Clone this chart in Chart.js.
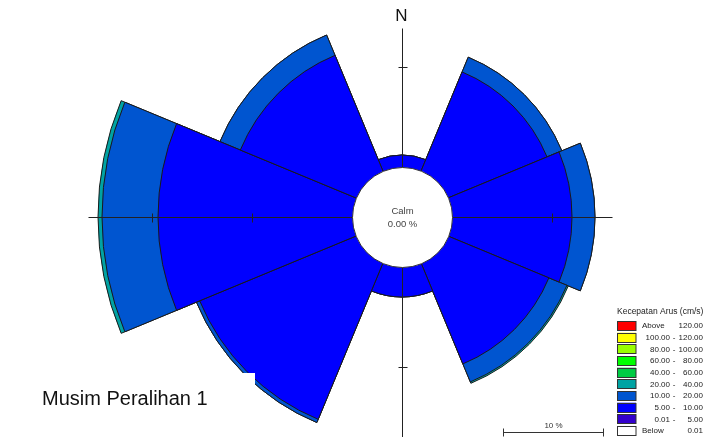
<!DOCTYPE html>
<html>
<head>
<meta charset="utf-8">
<script src="https://cdn.jsdelivr.net/npm/chart.js@4.4.1/dist/chart.umd.min.js"></script>
<style>
  body { margin: 0; background: #fff; }
  canvas { display: block; }
</style>
</head>
<body>
<canvas id="rose" width="710" height="437"></canvas>
<script>
var directions = ['N', 'NE', 'E', 'SE', 'S', 'SW', 'W', 'NW'];

// % of time per speed class (cm/s), one value per direction
var speed0to5   = [0, 0, 0, 0, 0, 0, 0, 0];
var speed5to10  = [1.2, 10.7, 12.0, 10.9, 3.0, 16.9, 19.4, 12.5];
var speed10to20 = [0, 1.6, 2.3, 1.95, 0, 0.35, 5.6, 2.2];
var speed20to40 = [0, 0, 0, 0.15, 0, 0, 0.4, 0];
var speed40to60 = [0, 0, 0, 0, 0, 0, 0, 0];
var speed60to80 = [0, 0, 0, 0, 0, 0, 0, 0];
var speed80to100 = [0, 0, 0, 0, 0, 0, 0, 0];
var speed100to120 = [0, 0, 0, 0, 0, 0, 0, 0];
var speedAbove120 = [0, 0, 0, 0, 0, 0, 0, 0];
var calmPercent = 0.00;

// legend rows, top to bottom
var legendLow  = ['Above', '100.00', '80.00', '60.00', '40.00', '20.00', '10.00', '5.00', '0.01', 'Below'];
var legendHigh = ['120.00', '120.00', '100.00', '80.00', '60.00', '40.00', '20.00', '10.00', '5.00', '0.01'];
var legendColors = ['#ff0000', '#ffff00', '#99ff00', '#00ff00', '#00cc44', '#00a3a3', '#0055d0', '#0000ff', '#3300cc', '#ffffff'];

var axisTicks = [10, 20];
var scaleBarPercent = 10;

// stack classes from slowest to fastest
var classes = [speed0to5, speed5to10, speed10to20, speed20to40, speed40to60,
               speed60to80, speed80to100, speed100to120, speedAbove120];
var classColors = legendColors.slice(0, 9).reverse();

var datasets = [];
var running = directions.map(function() { return 0; });
classes.forEach(function(values, k) {
  running = running.map(function(v, i) { return v + values[i]; });
  var used = values.some(function(v) { return v > 0; });
  if (!used) return;
  datasets.push({
    label: legendLow[8 - k],
    data: running.slice(),
    backgroundColor: classColors[k],
    borderColor: '#1a1a1a',
    borderWidth: 1,
    clip: false
  });
});

var FONT = '"Liberation Sans", Arial, sans-serif';

var roseDecor = {
  id: 'roseDecor',
  afterDatasetsDraw: function(chart) {
    var ctx = chart.ctx;
    var r = chart.scales.r;
    var cx = Math.round(r.xCenter) + 0.5, cy = Math.round(r.yCenter) + 0.5;
    var d = function(v) { return r.getDistanceFromCenterForValue(v); };
    var ext = { left: 26.4, right: 16.0, top: 13.9, bottom: 25 };

    ctx.save();
    ctx.strokeStyle = '#222';
    ctx.lineWidth = 1;
    ctx.beginPath();
    ctx.moveTo(cx - d(ext.left), cy);
    ctx.lineTo(cx + d(ext.right), cy);
    ctx.moveTo(cx, cy - d(ext.top));
    ctx.lineTo(cx, cy + d(ext.bottom));
    axisTicks.forEach(function(t) {
      var p = d(t);
      if (t < ext.left)   { ctx.moveTo(cx - p, cy - 4); ctx.lineTo(cx - p, cy + 5); }
      if (t < ext.right)  { ctx.moveTo(cx + p, cy - 4); ctx.lineTo(cx + p, cy + 5); }
      if (t < ext.top)    { ctx.moveTo(cx - 4, cy - p); ctx.lineTo(cx + 5, cy - p); }
      if (t < ext.bottom) { ctx.moveTo(cx - 4, cy + p); ctx.lineTo(cx + 5, cy + p); }
    });
    ctx.stroke();

    // calm circle
    ctx.beginPath();
    ctx.arc(cx, cy, d(0), 0, Math.PI * 2);
    ctx.fillStyle = '#fff';
    ctx.fill();
    ctx.strokeStyle = '#333';
    ctx.stroke();

    ctx.fillStyle = '#444';
    ctx.font = '9.5px ' + FONT;
    ctx.textAlign = 'center';
    ctx.textBaseline = 'middle';
    ctx.fillText('Calm', cx, cy - 6);
    ctx.fillText(calmPercent.toFixed(2) + ' %', cx, cy + 7);

    ctx.fillStyle = '#111';
    ctx.font = '17px ' + FONT;
    ctx.fillText('N', cx - 1, 16);
    ctx.restore();
  },
  afterDraw: function(chart) {
    var ctx = chart.ctx;
    var r = chart.scales.r;
    ctx.save();

    // title box
    ctx.fillStyle = '#fff';
    ctx.fillRect(30, 373, 225, 64);
    ctx.fillStyle = '#111';
    ctx.font = '20px ' + FONT;
    ctx.textAlign = 'left';
    ctx.textBaseline = 'alphabetic';
    ctx.fillText('Musim Peralihan 1', 42, 405);

    // legend
    ctx.font = '8.5px ' + FONT;
    ctx.fillStyle = '#222';
    ctx.textBaseline = 'middle';
    ctx.fillText('Kecepatan Arus (cm/s)', 617, 312);
    ctx.font = '8px ' + FONT;
    legendLow.forEach(function(lo, i) {
      var y = 321 + i * 11.67;
      ctx.fillStyle = legendColors[i];
      ctx.fillRect(617, y, 19, 9.5);
      ctx.strokeStyle = '#333';
      ctx.lineWidth = 1;
      ctx.strokeRect(617.5, Math.round(y) + 0.5, 18.5, 9);
      ctx.fillStyle = '#222';
      var ty = y + 5;
      if (lo === 'Above' || lo === 'Below') {
        ctx.textAlign = 'left';
        ctx.fillText(lo, 642, ty);
      } else {
        ctx.textAlign = 'right';
        ctx.fillText(lo, 670, ty);
        ctx.textAlign = 'center';
        ctx.fillText('-', 674, ty);
      }
      ctx.textAlign = 'right';
      ctx.fillText(legendHigh[i], 703, ty);
    });

    // scale bar
    var len = r.getDistanceFromCenterForValue(scaleBarPercent) - r.getDistanceFromCenterForValue(0);
    var x0 = 503.5, yb = 432.5;
    ctx.strokeStyle = '#333';
    ctx.beginPath();
    ctx.moveTo(x0, yb); ctx.lineTo(x0 + len, yb);
    ctx.moveTo(x0, yb - 4); ctx.lineTo(x0, yb + 4);
    ctx.moveTo(x0 + len, yb - 4); ctx.lineTo(x0 + len, yb + 4);
    ctx.stroke();
    ctx.fillStyle = '#333';
    ctx.font = '8px ' + FONT;
    ctx.textAlign = 'center';
    ctx.textBaseline = 'alphabetic';
    ctx.fillText(scaleBarPercent + ' %', x0 + len / 2, 428);
    ctx.restore();
  }
};

new Chart(document.getElementById('rose'), {
  type: 'polarArea',
  data: { labels: directions, datasets: datasets },
  plugins: [roseDecor],
  options: {
    responsive: false,
    animation: false,
    layout: { padding: { left: 192, right: 98, top: 7, bottom: 10 } },
    plugins: { legend: { display: false }, tooltip: { enabled: false } },
    scales: {
      r: {
        min: -5,
        max: 16,
        startAngle: -22.5,
        ticks: { display: false },
        grid: { display: false },
        angleLines: { display: false },
        pointLabels: { display: false }
      }
    }
  }
});
</script>
</body>
</html>
